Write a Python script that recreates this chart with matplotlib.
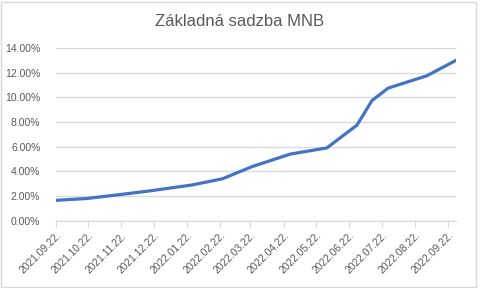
import numpy as np
import matplotlib
matplotlib.use("Agg")
import matplotlib.pyplot as plt
import matplotlib.dates as mdates
from matplotlib.patches import Rectangle
from matplotlib.ticker import FuncFormatter

# base rate (%)
dates = ["2021-09-22", "2021-10-21", "2021-11-19", "2021-12-17", "2022-01-27",
         "2022-02-24", "2022-03-24", "2022-04-28", "2022-06-01", "2022-06-29",
         "2022-07-13", "2022-07-28", "2022-09-02", "2022-09-29"]
rates = [1.65, 1.80, 2.10, 2.40, 2.90, 3.40, 4.40, 5.40, 5.90, 7.75,
         9.75, 10.75, 11.75, 13.00]
title = "Základná sadzba MNB"

x = np.array(dates, dtype="datetime64[D]")
txt = "#595959"
grid = "#d9d9d9"

plt.rcParams['font.family'] = ['Liberation Sans', 'DejaVu Sans']

fig = plt.figure(figsize=(4.8, 2.88), dpi=100)
fig.patches.append(Rectangle((0.002, 0.004), 0.99, 0.99, transform=fig.transFigure,
                             fill=False, edgecolor=grid, lw=1))

ax = fig.add_axes([55.7/480, 1 - 220.7/288, (456 - 55.7)/480, (220.7 - 48)/288])
ax.plot(x, rates, color="#4472C4", lw=2.3, solid_joinstyle="round")

ax.set_xlim(x[0], x[-1])
ax.set_ylim(0, 14)
ax.set_yticks(np.arange(0, 15, 2))
ax.yaxis.set_major_formatter(FuncFormatter(lambda v, p: "%.2f%%" % v))
ax.grid(axis="y", color=grid, lw=1)
ax.set_axisbelow(True)

ax.xaxis.set_major_locator(mdates.MonthLocator(bymonthday=22))
ax.xaxis.set_major_formatter(mdates.DateFormatter("%Y.%m.%d."))

for s in ["top", "right", "left"]:
    ax.spines[s].set_visible(False)
ax.spines["bottom"].set_color(grid)
ax.tick_params(axis="y", length=0, pad=11, labelsize=7.5, labelcolor=txt)
ax.tick_params(axis="x", length=4, color=grid, pad=3, labelsize=7.4, labelcolor=txt)
for lab in ax.get_xticklabels():
    lab.set_rotation(45)
    lab.set_ha("right")
    lab.set_rotation_mode("anchor")

fig.text(0.5, 1 - 21/288, title, ha="center", va="center", fontsize=12, color=txt)

fig.savefig("out.png", dpi=100)
